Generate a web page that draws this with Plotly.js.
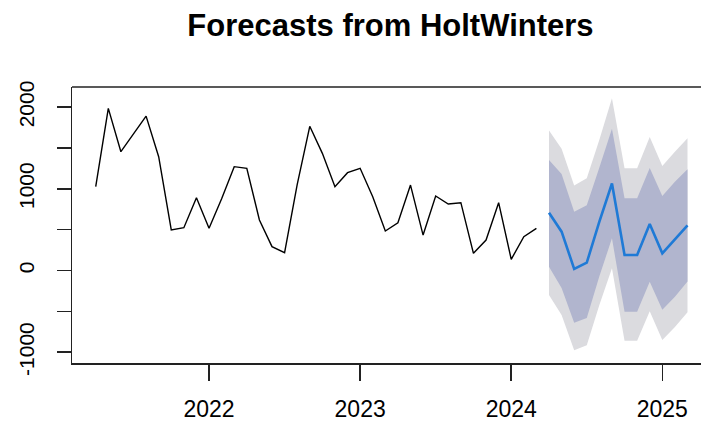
<!DOCTYPE html>
<html>
<head>
<meta charset="utf-8">
<script src="https://cdn.plot.ly/plotly-3.0.1.min.js"></script>
<style>
  html, body { margin: 0; padding: 0; background: #ffffff; }
  #chart { width: 701px; height: 421px; }
</style>
</head>
<body>
<div id="chart"></div>
<script>
// Monthly series, starting April 2021
const seriesStartYear = 2021;
const seriesStartMonth = 4;
const observed = [
  1026, 1985, 1454, 1670, 1890, 1393, 496, 524, 891, 516, 879, 1271,
  1251, 618, 292, 218, 1050, 1765, 1434, 1026, 1197, 1251, 903, 483,
  585, 1046, 434, 912, 814, 830, 210, 373, 830, 137, 414, 516
];

// Holt-Winters forecasts, April 2024 - March 2025
const forecastStartYear = 2024;
const forecastStartMonth = 4;
const fcMean = [708, 475, 20, 96, 598, 1065, 190, 190, 569, 210, 382, 553];
const fcLo80 = [47, -215, -640, -580, -70, 394, -504, -504, -137, -480, -320, -135];
const fcHi80 = [1352, 1180, 720, 800, 1260, 1735, 883, 883, 1255, 912, 1087, 1240];
const fcLo95 = [-300, -545, -975, -915, -422, 27, -859, -859, -500, -851, -690, -510];
const fcHi95 = [1715, 1490, 1040, 1128, 1600, 2108, 1251, 1251, 1635, 1279, 1454, 1618];

// Axis ticks
const xTickVals = [2022, 2023, 2024, 2025];
const xTickText = ['2022', '2023', '2024', '2025'];
const yTickVals = [-1000, -500, 0, 500, 1000, 1500, 2000];
const yTickText = ['-1000', '', '0', '', '1000', '', '2000'];

// time index in fractional years, like a ts object with frequency 12
function timeIndex(year, month, n) {
  const t = [];
  for (let i = 0; i < n; i++) t.push(year + (month - 1 + i) / 12);
  return t;
}

const tObs = timeIndex(seriesStartYear, seriesStartMonth, observed.length);
const tFc = timeIndex(forecastStartYear, forecastStartMonth, fcMean.length);

function band(lo, hi) {
  return {
    x: tFc.concat(tFc.slice().reverse()),
    y: hi.concat(lo.slice().reverse())
  };
}

const b95 = band(fcLo95, fcHi95);
const b80 = band(fcLo80, fcHi80);

const traces = [
  {
    x: b95.x, y: b95.y, type: 'scatter', mode: 'lines',
    fill: 'toself', fillcolor: '#DBDBDF', line: { width: 0 },
    hoverinfo: 'skip'
  },
  {
    x: b80.x, y: b80.y, type: 'scatter', mode: 'lines',
    fill: 'toself', fillcolor: '#B1B5CE', line: { width: 0 },
    hoverinfo: 'skip'
  },
  {
    x: tObs, y: observed, type: 'scatter', mode: 'lines',
    line: { color: '#000000', width: 1.4 }
  },
  {
    x: tFc, y: fcMean, type: 'scatter', mode: 'lines',
    line: { color: '#1F7AD6', width: 2.6 }
  }
];

const axisFont = { family: 'Liberation Sans, Arial, sans-serif', size: 23, color: '#000000' };

const layout = {
  width: 701,
  height: 421,
  margin: { l: 72, r: 0, t: 87, b: 58 },
  paper_bgcolor: '#ffffff',
  plot_bgcolor: '#ffffff',
  showlegend: false,
  title: {
    text: '<b>Forecasts from HoltWinters</b>',
    font: { family: 'Liberation Sans, Arial, sans-serif', size: 31, color: '#000000' },
    x: 0.557, xanchor: 'center', xref: 'container',
    y: 0.941, yanchor: 'middle', yref: 'container'
  },
  xaxis: {
    range: [2021.093, 2025.256],
    tickmode: 'array', tickvals: xTickVals, ticktext: xTickText,
    ticks: 'outside', ticklen: 16, tickwidth: 1.5, tickcolor: '#222222',
    showline: true, linecolor: '#222222', linewidth: 1.5,
    showgrid: false, zeroline: false,
    tickfont: axisFont, ticklabelstandoff: 9
  },
  yaxis: {
    range: [-1132, 2246],
    tickmode: 'array', tickvals: yTickVals, ticktext: yTickText,
    ticks: 'outside', ticklen: 14, tickwidth: 1.5, tickcolor: '#222222',
    showline: true, linecolor: '#222222', linewidth: 1.5,
    showgrid: false, zeroline: false,
    tickangle: -90,
    tickfont: { family: 'Liberation Sans, Arial, sans-serif', size: 21, color: '#000000' },
    ticklabelstandoff: 14
  },
  shapes: [
    {
      type: 'line', xref: 'paper', yref: 'paper',
      x0: 0, x1: 1, y0: 1, y1: 1,
      line: { color: '#222222', width: 1.5 }
    }
  ]
};

Plotly.newPlot('chart', traces, layout, { staticPlot: true, displayModeBar: false });
</script>
</body>
</html>
